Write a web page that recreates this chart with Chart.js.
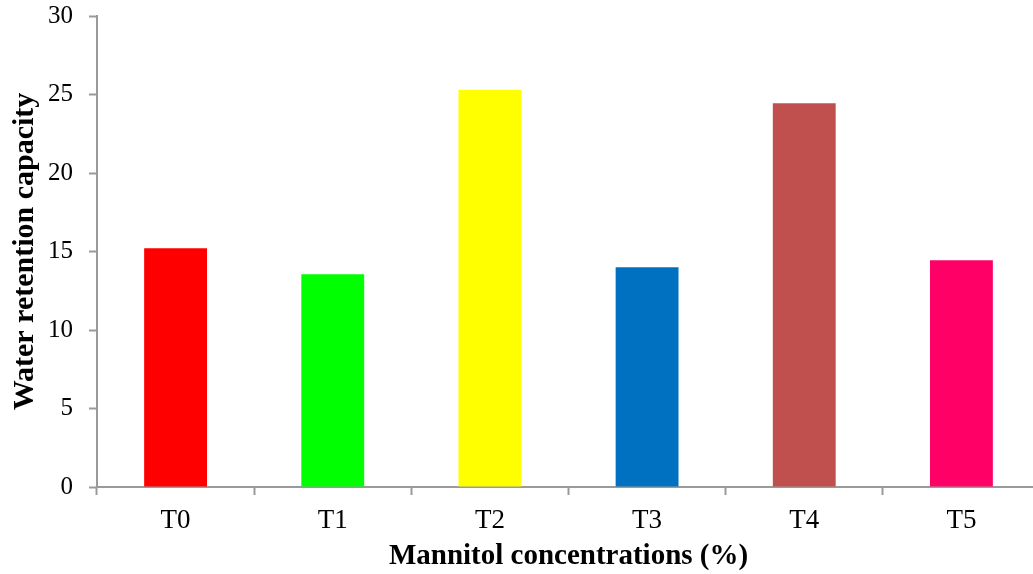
<!DOCTYPE html>
<html>
<head>
<meta charset="utf-8">
<script src="https://cdn.jsdelivr.net/npm/chart.js@4/dist/chart.umd.min.js"></script>
<style>
  html, body { margin: 0; padding: 0; background: #fff; overflow: hidden; }
  #wrap { width: 1040px; height: 589px; margin-top: -15px; }
</style>
</head>
<body>
<div id="wrap"><canvas id="c" width="1040" height="589"></canvas></div>
<script>
const categories = ['T0', 'T1', 'T2', 'T3', 'T4', 'T5'];
const waterRetention = [15.2, 13.55, 25.3, 14.0, 24.45, 14.45];
const barColors = ['#FF0000', '#00FF00', '#FFFF00', '#0070C0', '#C0504D', '#FF0066'];
const yTicks = [0, 5, 10, 15, 20, 25, 30];

const axisGray = '#9a9a9a';
const serif = '"Liberation Serif", "Times New Roman", serif';

new Chart(document.getElementById('c'), {
  type: 'bar',
  data: {
    labels: categories,
    datasets: [{
      data: waterRetention,
      backgroundColor: barColors,
      borderWidth: 0,
      barPercentage: 0.4,
      categoryPercentage: 1.0
    }]
  },
  options: {
    responsive: false,
    animation: false,
    layout: { padding: { top: 3, right: 0, left: 0, bottom: 0 } },
    plugins: { legend: { display: false }, tooltip: { enabled: false } },
    scales: {
      x: {
        grid: {
          display: true, drawOnChartArea: false, drawTicks: true,
          tickLength: 8, tickColor: axisGray, tickWidth: 2, offset: true
        },
        border: { display: true, color: axisGray, width: 2 },
        ticks: { color: '#000', font: { family: serif, size: 27 }, padding: 10 },
        title: {
          display: true, text: 'Mannitol concentrations (%)', color: '#000',
          font: { family: serif, size: 29, weight: 'bold' }, padding: { top: 0, bottom: 0 }
        },
        afterFit: s => { s.height = 87; }
      },
      y: {
        min: 0, max: 30,
        afterBuildTicks: s => { s.ticks = yTicks.map(v => ({ value: v })); },
        grid: {
          display: true, drawOnChartArea: false, drawTicks: true,
          tickLength: 8, tickColor: axisGray, tickWidth: 2
        },
        border: { display: true, color: axisGray, width: 2 },
        ticks: { color: '#000', font: { family: serif, size: 25 }, padding: 16 },
        title: {
          display: true, text: 'Water retention capacity', color: '#000',
          font: { family: serif, size: 30, weight: 'bold' }, padding: { top: 7, bottom: 0 }
        },
        afterFit: s => { s.width = 97; }
      }
    }
  }
});
</script>
</body>
</html>
